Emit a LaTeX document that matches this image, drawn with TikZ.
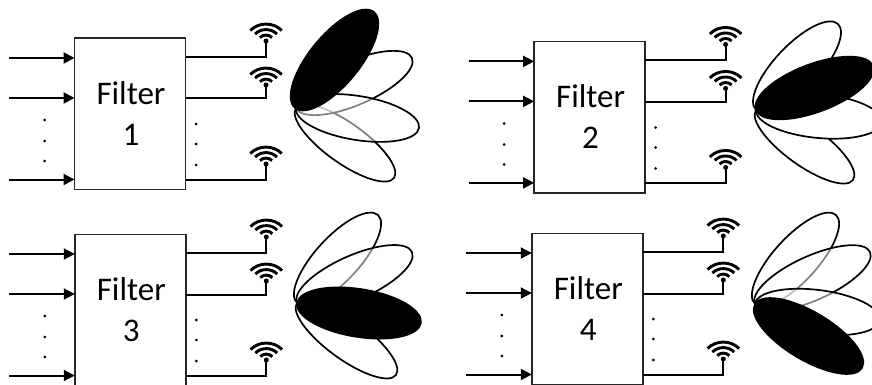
\documentclass[tikz,border=0pt]{standalone}
\usepackage{fontspec}
\setmainfont{Carlito}
\usetikzlibrary{arrows.meta}
\tikzset{
  x=1pt,y=-1pt,
  filterbox/.style={draw=black!85,line width=1.6pt,minimum width=111pt,minimum height=151pt,inner sep=0pt,outer sep=0pt},
  filterlabel/.style={font=\fontsize{33}{41}\selectfont,align=center,inner sep=0pt},
  wire/.style={line width=2pt,line cap=butt,line join=miter},
  feed/.style={line width=2pt,-{Triangle[length=11pt,width=11pt]}},
  wave/.style={line width=2.9pt,line cap=butt},
  dotmark/.style={circle,fill=black,inner sep=0pt,minimum size=3pt},
  antdot/.style={circle,fill=black,inner sep=0pt,minimum size=5pt},
  lobeline/.style={draw=black,line width=1.7pt,fill=white,fill opacity=.5,draw opacity=1},
  lobeplain/.style={draw=black,line width=1.7pt,fill=white},
  lobefull/.style={draw=black,line width=1.5pt,fill=black},
}
\newcommand{\lobeshape}[6]{%
  \pgfmathsetmacro{\lmx}{(#1+#3)/2}\pgfmathsetmacro{\lmy}{(#2+#4)/2}%
  \pgfmathsetmacro{\lang}{atan2(#4-#2,#3-#1)}%
  \pgfmathsetmacro{\lrad}{veclen(#3-#1,#4-#2)/2}%
  \path[#6,rotate around={-\lang:(\lmx,\lmy)}] (\lmx,\lmy) ellipse [x radius=\lrad,y radius=#5/2];%
}
\newcommand{\wifiicon}[3]{% name,x,y
  \coordinate (#1) at (#2,#3);
  \foreach \r in {7.5,13.5,19.5}{
    \draw[wave] ({#2-\r*sin(54)},{#3-\r*cos(54)}) .. controls ({#2-\r*0.38},{#3-\r*1.03}) and ({#2+\r*0.38},{#3-\r*1.03}) .. ({#2+\r*sin(54)},{#3-\r*cos(54)});
  }
  \node[antdot] at (#2,#3-1) {};
}
\newcommand{\panel}[4]{% name, dx, dy, number
  \begin{scope}[shift={(#2,#3)}]
    \node[filterbox] (#1box) at (130,113.8) {};
    \node[filterlabel] (#1text) at (131,113.5) {Filter\\#4};
    \coordinate (#1ina) at (9,58);
    \coordinate (#1inb) at (9,98);
    \coordinate (#1inc) at (9,179.5);
    \draw[feed] (#1ina) -- (#1ina -| #1box.west);
    \draw[feed] (#1inb) -- (#1inb -| #1box.west);
    \draw[feed] (#1inc) -- (#1inc -| #1box.west);
    \wifiicon{#1anta}{266}{42}
    \wifiicon{#1antb}{266}{86}
    \wifiicon{#1antc}{266}{165}
    \coordinate (#1outa) at (266,57);
    \coordinate (#1outb) at (266,98.5);
    \coordinate (#1outc) at (266,180);
    \draw[wire] (#1outa -| #1box.east) -- (#1outa) -- (#1anta);
    \draw[wire] (#1outb -| #1box.east) -- (#1outb) -- (#1antb);
    \draw[wire] (#1outc -| #1box.east) -- (#1outc) -- (#1antc);
    \node[dotmark] (#1da) at (44.5,120) {};
    \node[dotmark] (#1db) at (44.5,141) {};
    \node[dotmark] (#1dc) at (44.5,161) {};
    \node[dotmark] (#1de) at (196,124) {};
    \node[dotmark] (#1df) at (196,144) {};
    \node[dotmark] (#1dg) at (196,165) {};
  \end{scope}
}
\begin{document}
\begin{tikzpicture}
\useasboundingbox (0,0) rectangle (872,385);
\clip (0,0) rectangle (872,385);
\fill[white] (0,0) rectangle (872,385);
\panel{p}{0}{0}{1}
\panel{q}{459.6}{3.4}{2}
\panel{r}{0.3}{196}{3}
\panel{s}{457.3}{195}{4}
% panel 1
\lobeshape{296}{108}{394}{178}{40}{lobeline}
\lobeshape{296}{108}{412}{58}{44}{lobeline}
\lobeshape{296}{108}{419}{128}{44}{lobeline}
\lobeshape{295}{108}{374}{12}{50}{lobefull}
% panel 2
\lobeshape{756}{110}{853}{180}{40}{lobeline}
\lobeshape{756}{110}{838}{24}{44}{lobeline}
\lobeshape{756}{110}{882}{122}{44}{lobeplain}
\lobeshape{756}{110}{873}{66}{48}{lobefull}
% panel 3
\lobeshape{297}{303}{396}{375}{40}{lobeline}
\lobeshape{297}{303}{378}{215}{44}{lobeline}
\lobeshape{297}{303}{412}{252}{44}{lobeline}
\lobeshape{297}{303}{421}{323}{48}{lobefull}
% panel 4
\lobeshape{755}{304}{836}{215}{44}{lobeline}
\lobeshape{755}{304}{870}{252}{44}{lobeline}
\lobeshape{755}{304}{880}{320}{44}{lobeline}
\lobeshape{755}{304}{862}{368}{48}{lobefull}
\end{tikzpicture}
\end{document}
